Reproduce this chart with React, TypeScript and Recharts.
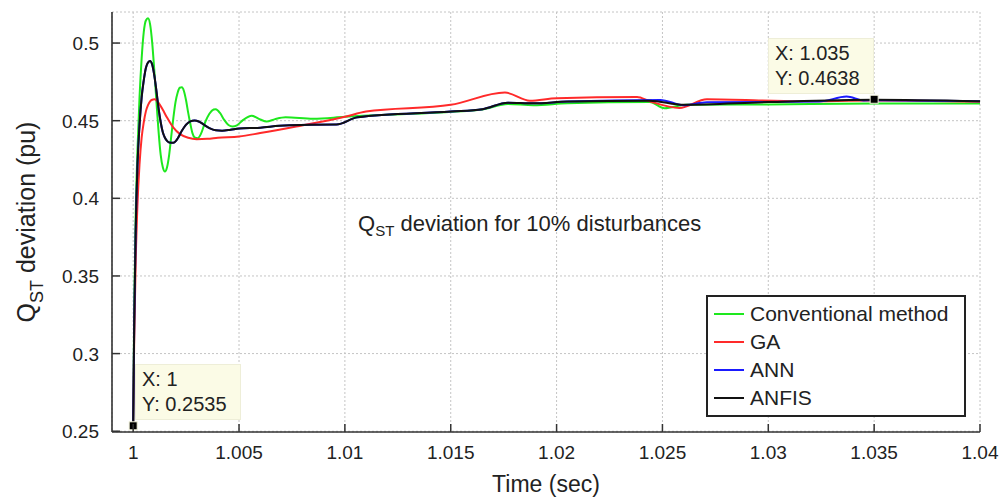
import { CartesianGrid, Legend, Line, LineChart, ReferenceDot, XAxis, YAxis } from "recharts";

// time stamps (sec) and Q_ST deviation (pu)
const convT = [1.0, 1.00005, 1.00012, 1.0002, 1.0003, 1.0004, 1.0005, 1.0006, 1.0007, 1.0008, 1.0009, 1.001, 1.0011, 1.0012, 1.0013, 1.0014, 1.0015, 1.0016, 1.0017, 1.0018, 1.0019, 1.002, 1.0021, 1.0022, 1.0023, 1.0024, 1.0025, 1.0026, 1.0027, 1.0028, 1.0029, 1.00305, 1.0032, 1.0034, 1.0036, 1.0038, 1.0039, 1.0041, 1.0043, 1.0045, 1.0047, 1.0049, 1.0052, 1.0056, 1.006, 1.0063, 1.0067, 1.0072, 1.0085, 1.01, 1.014, 1.0165, 1.0177, 1.0189, 1.0205, 1.0244, 1.0251, 1.0261, 1.03, 1.035, 1.04];
const convV = [0.2535, 0.33, 0.39, 0.43, 0.465, 0.49, 0.507, 0.5145, 0.5159, 0.512, 0.5, 0.482, 0.462, 0.443, 0.428, 0.42, 0.4173, 0.42, 0.428, 0.44, 0.452, 0.462, 0.468, 0.4712, 0.4715, 0.469, 0.463, 0.455, 0.448, 0.442, 0.4392, 0.4387, 0.4415, 0.449, 0.4545, 0.4572, 0.4574, 0.455, 0.4505, 0.4472, 0.4462, 0.447, 0.4505, 0.4531, 0.4508, 0.4494, 0.451, 0.4522, 0.4512, 0.4525, 0.455, 0.4572, 0.4608, 0.46, 0.4612, 0.462, 0.458, 0.4602, 0.4605, 0.461, 0.461];

const gaT = [1.0, 1.00005, 1.00012, 1.0002, 1.0003, 1.0004, 1.0005, 1.0006, 1.0007, 1.0008, 1.0009, 1.001, 1.0011, 1.0012, 1.0014, 1.0016, 1.0019, 1.0022, 1.0026, 1.003, 1.0035, 1.004, 1.005, 1.006, 1.0077, 1.01, 1.011, 1.015, 1.01756, 1.01874, 1.02, 1.0238, 1.0244, 1.0258, 1.0271, 1.0315, 1.035, 1.04];
const gaV = [0.2535, 0.31, 0.36, 0.395, 0.422, 0.439, 0.449, 0.456, 0.46, 0.4625, 0.4635, 0.4638, 0.4632, 0.4615, 0.457, 0.452, 0.4455, 0.4415, 0.439, 0.4381, 0.4383, 0.439, 0.4398, 0.442, 0.4462, 0.4525, 0.4559, 0.4602, 0.4681, 0.4629, 0.4645, 0.4652, 0.4625, 0.4582, 0.4638, 0.4625, 0.463, 0.4622];

const anfisT = [1.0, 1.00005, 1.00012, 1.0002, 1.0003, 1.0004, 1.0005, 1.0006, 1.0007, 1.0008, 1.0009, 1.001, 1.0011, 1.0012, 1.0013, 1.0014, 1.0015, 1.0016, 1.0017, 1.0019, 1.0021, 1.0023, 1.0025, 1.0027, 1.0029, 1.0031, 1.0033, 1.0036, 1.0039, 1.0042, 1.0046, 1.005, 1.006, 1.0069, 1.0079, 1.0096, 1.0106, 1.015, 1.0165, 1.0177, 1.0189, 1.0205, 1.0244, 1.026, 1.03, 1.035, 1.04];
const anfisV = [0.2535, 0.32, 0.38, 0.42, 0.447, 0.465, 0.476, 0.484, 0.4875, 0.4885, 0.486, 0.479, 0.469, 0.458, 0.449, 0.4425, 0.439, 0.437, 0.436, 0.4358, 0.4385, 0.4435, 0.4475, 0.4496, 0.4502, 0.4495, 0.4478, 0.4452, 0.4438, 0.4436, 0.4442, 0.445, 0.4455, 0.4467, 0.4473, 0.4475, 0.4522, 0.4559, 0.4574, 0.4616, 0.4612, 0.4623, 0.4629, 0.4602, 0.462, 0.4635, 0.4625];

const annT = [1.0, 1.00005, 1.00012, 1.0002, 1.0003, 1.0004, 1.0005, 1.0006, 1.0007, 1.0008, 1.0009, 1.001, 1.0011, 1.0012, 1.0013, 1.0014, 1.0015, 1.0016, 1.0017, 1.0019, 1.0021, 1.0023, 1.0025, 1.0027, 1.0029, 1.0031, 1.0033, 1.0036, 1.0039, 1.0042, 1.0046, 1.005, 1.006, 1.0069, 1.0079, 1.0096, 1.0106, 1.015, 1.0165, 1.0177, 1.0189, 1.0205, 1.0249, 1.026, 1.0271, 1.0324, 1.0337, 1.0345, 1.035, 1.04];
const annV = [0.2535, 0.32, 0.38, 0.42, 0.447, 0.465, 0.476, 0.484, 0.4875, 0.4885, 0.486, 0.479, 0.469, 0.458, 0.449, 0.4425, 0.439, 0.437, 0.436, 0.4358, 0.4385, 0.4435, 0.4475, 0.4496, 0.4502, 0.4495, 0.4478, 0.4452, 0.4438, 0.4436, 0.4442, 0.445, 0.4455, 0.4467, 0.4473, 0.4475, 0.4522, 0.4559, 0.4574, 0.4616, 0.4612, 0.4623, 0.4634, 0.46, 0.4619, 0.4623, 0.4655, 0.463, 0.4632, 0.4625];

const xTicks = [1, 1.005, 1.01, 1.015, 1.02, 1.025, 1.03, 1.035, 1.04];
const yTicks = [0.25, 0.3, 0.35, 0.4, 0.45, 0.5];

const seriesNames = ["Conventional method", "GA", "ANN", "ANFIS"];
const seriesColors = ["#1ee81e", "#ff2a2a", "#1a1aff", "#111111"];

const zip = (t: number[], v: number[]) => t.map((x, i) => ({ t: x, v: v[i] }));
const seriesData = [zip(convT, convV), zip(gaT, gaV), zip(annT, annV), zip(anfisT, anfisV)];

const FONT = "'Liberation Sans', Arial, sans-serif";
const fmt = (v: number) => String(+v.toFixed(3));

// plot box edges (chart margins + axis sizes)
const PLOT_LEFT = 112;
const PLOT_RIGHT = 980;
const PLOT_TOP = 12;
const PLOT_BOTTOM = 432;
const TICK = 8;

// MATLAB-style inward ticks drawn by each axis' own tick renderer
function BottomTick(p: any) {
  return (
    <g>
      <line x1={p.x} x2={p.x} y1={PLOT_BOTTOM} y2={PLOT_BOTTOM - TICK} stroke="#333" strokeWidth={1.5} />
      <text x={p.x} y={PLOT_BOTTOM + 27} textAnchor="middle" fontSize={19} fill="#222" fontFamily={FONT}>
        {fmt(p.payload.value)}
      </text>
    </g>
  );
}
function TopTick(p: any) {
  return <line x1={p.x} x2={p.x} y1={PLOT_TOP} y2={PLOT_TOP + TICK} stroke="#333" strokeWidth={1.5} />;
}
function LeftTick(p: any) {
  return (
    <g>
      <line x1={PLOT_LEFT} x2={PLOT_LEFT + TICK} y1={p.y} y2={p.y} stroke="#333" strokeWidth={1.5} />
      <text x={PLOT_LEFT - 13} y={p.y + 7} textAnchor="end" fontSize={19} fill="#222" fontFamily={FONT}>
        {fmt(p.payload.value)}
      </text>
    </g>
  );
}
function RightTick(p: any) {
  return <line x1={PLOT_RIGHT} x2={PLOT_RIGHT - TICK} y1={p.y} y2={p.y} stroke="#333" strokeWidth={1.5} />;
}

function Marker(p: any) {
  return <rect x={p.cx - 4} y={p.cy - 4} width={8} height={8} fill="#000" stroke="#f4f4dc" strokeWidth={1} />;
}

function LegendBox() {
  return (
    <div style={{ border: "2px solid #222", background: "#fff", width: 256, padding: "3px 0", fontFamily: FONT, fontSize: 21, color: "#222" }}>
      {seriesNames.map((n, i) => (
        <div key={n} style={{ display: "flex", alignItems: "center", height: 28 }}>
          <span style={{ display: "inline-block", width: 30, height: 0, borderTop: `2px solid ${seriesColors[i]}`, marginLeft: 6, marginRight: 6 }} />
          {n}
        </div>
      ))}
    </div>
  );
}

function YTitle() {
  return (
    <text transform="translate(35,222) rotate(-90)" textAnchor="middle" fontFamily={FONT} fontSize={25} fill="#222">
      Q<tspan fontSize={18} dy={8}>ST</tspan>
      <tspan dy={-8}> deviation (pu)</tspan>
    </text>
  );
}

function XTitle() {
  return (
    <text x={546} y={492} textAnchor="middle" fontFamily={FONT} fontSize={23} fill="#222">
      Time (sec)
    </text>
  );
}

const tipBox = {
  position: "absolute" as const,
  background: "#fbfbe6",
  border: "1px solid #eeeed8",
  fontFamily: FONT,
  fontSize: 20,
  color: "#222",
  lineHeight: "25px",
  padding: "2px 6px",
};

export default function App() {
  return (
    <div style={{ position: "absolute", left: 0, top: 0, width: 1008, height: 498, background: "#fff" }}>
      <LineChart width={1008} height={498} margin={{ top: PLOT_TOP, right: 1008 - PLOT_RIGHT, bottom: 0, left: 0 }}>
        <CartesianGrid stroke="#c4c4c4" strokeDasharray="2 2" />
        <XAxis
          dataKey="t"
          type="number"
          domain={[0.999, 1.04]}
          ticks={xTicks}
          allowDataOverflow
          height={498 - PLOT_BOTTOM}
          tick={<BottomTick />}
          tickLine={false}
          stroke="#333"
          strokeWidth={1.6}
          label={<XTitle />}
        />
        <XAxis xAxisId="top" orientation="top" type="number" domain={[0.999, 1.04]} ticks={xTicks} height={0} tick={<TopTick />} tickLine={false} stroke="#333" strokeWidth={1.6} />
        <YAxis
          type="number"
          domain={[0.2495, 0.52]}
          ticks={yTicks}
          allowDataOverflow
          width={PLOT_LEFT}
          tick={<LeftTick />}
          tickLine={false}
          stroke="#333"
          strokeWidth={1.6}
          label={<YTitle />}
        />
        <YAxis yAxisId="right" orientation="right" type="number" domain={[0.2495, 0.52]} ticks={yTicks} width={0} tick={<RightTick />} tickLine={false} stroke="#333" strokeWidth={1.6} />
        {seriesData.map((d, i) => (
          <Line
            key={seriesNames[i]}
            data={d}
            dataKey="v"
            name={seriesNames[i]}
            type="monotone"
            stroke={seriesColors[i]}
            strokeWidth={2}
            dot={false}
            isAnimationActive={false}
          />
        ))}
        <ReferenceDot x={1} y={0.2535} r={4} shape={Marker} />
        <ReferenceDot x={1.035} y={0.4638} r={4} shape={Marker} />
        <Legend
          layout="vertical"
          align="center"
          verticalAlign="middle"
          content={() => <LegendBox />}
          wrapperStyle={{ top: 295, left: 706, width: 260, height: 120 }}
        />
      </LineChart>
      <div style={{ ...tipBox, left: 135, top: 364, width: 92 }}>
        X: 1<br />Y: 0.2535
      </div>
      <div style={{ ...tipBox, left: 768, top: 38, width: 92 }}>
        X: 1.035<br />Y: 0.4638
      </div>
      <div style={{ position: "absolute", left: 358, top: 211, fontFamily: FONT, fontSize: 22, color: "#222", whiteSpace: "nowrap" }}>
        Q<sub style={{ fontSize: 15 }}>ST</sub> deviation for 10% disturbances
      </div>
    </div>
  );
}
